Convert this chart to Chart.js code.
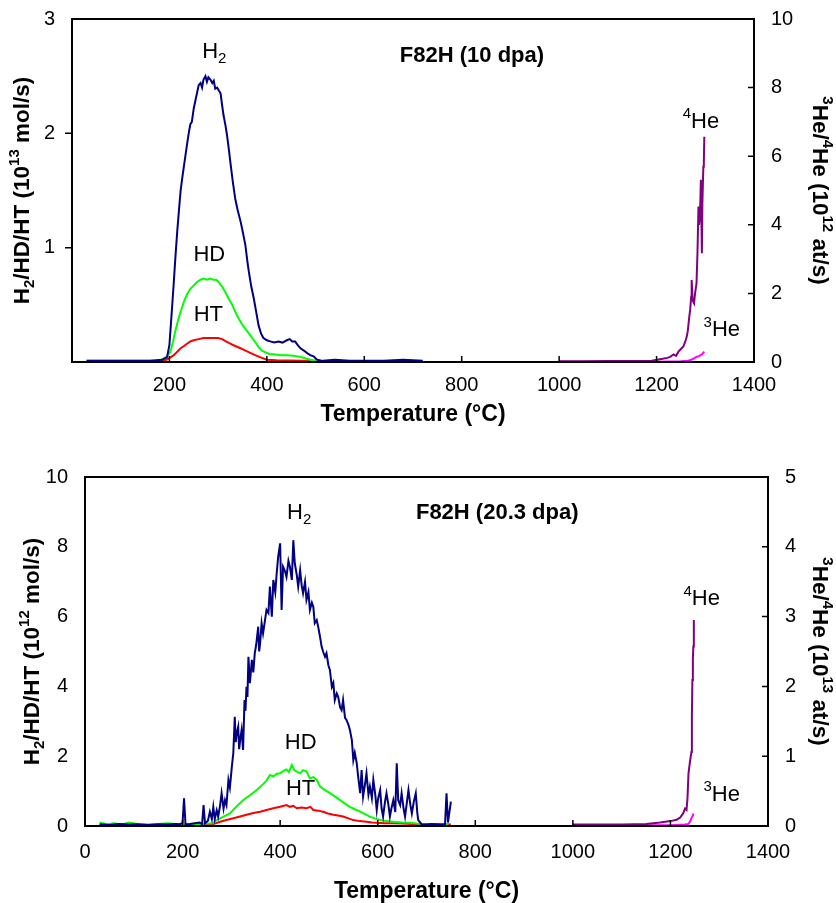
<!DOCTYPE html>
<html>
<head>
<meta charset="utf-8">
<script src="https://cdn.jsdelivr.net/npm/chart.js@4"></script>
<style>
body { margin: 0; background: #fff; overflow: hidden; }
#wrap { position: relative; width: 836px; height: 903px; overflow: hidden; }
canvas { position: absolute; left: 0; }
</style>
</head>
<body>
<div id="wrap">
<canvas id="topChart" width="836" height="460" style="top:-10px"></canvas>
<canvas id="bottomChart" width="836" height="455" style="top:448px"></canvas>
</div>
<script>
// ---- F82H (10 dpa): temperature (°C), rate ----
const h2Top = [[30,0.01],[80,0.01],[120,0.01],[160,0.01],[185,0.02],[195,0.04],[200,0.15],[202,0.27],[205,0.45],[209,0.70],[212,0.90],[216,1.14],[220,1.35],[223,1.50],[226,1.60],[230,1.72],[233,1.81],[236,1.90],[240,2.01],[243,2.08],[246,2.10],[250,2.22],[254,2.30],[257,2.36],[260,2.42],[264,2.44],[267,2.40],[270,2.47],[274,2.50],[277,2.45],[280,2.49],[284,2.47],[288,2.44],[291,2.46],[294,2.39],[298,2.40],[302,2.37],[305,2.35],[308,2.25],[311,2.16],[315,2.07],[318,1.99],[322,1.86],[325,1.75],[330,1.58],[335,1.43],[340,1.33],[346,1.23],[350,1.15],[356,1.02],[360,0.88],[363,0.79],[368,0.66],[373,0.56],[378,0.44],[383,0.32],[388,0.25],[393,0.21],[400,0.19],[407,0.18],[415,0.17],[424,0.18],[432,0.17],[441,0.19],[447,0.20],[452,0.18],[458,0.18],[463,0.15],[469,0.12],[476,0.10],[482,0.08],[489,0.06],[496,0.05],[503,0.02],[515,0.01],[540,0.02],[570,0.01],[600,0.01],[640,0.01],[680,0.02],[720,0.01]];
const hdTop = [[30,0.01],[120,0.01],[175,0.01],[188,0.03],[195,0.05],[202,0.09],[207,0.17],[212,0.27],[218,0.37],[223,0.44],[230,0.53],[236,0.59],[243,0.64],[250,0.67],[257,0.70],[264,0.72],[270,0.73],[277,0.72],[284,0.73],[290,0.72],[296,0.72],[301,0.70],[308,0.66],[315,0.61],[322,0.55],[329,0.50],[335,0.44],[342,0.38],[349,0.33],[356,0.29],[363,0.25],[370,0.21],[377,0.17],[383,0.13],[390,0.10],[397,0.085],[405,0.07],[414,0.067],[430,0.06],[441,0.06],[455,0.055],[469,0.045],[480,0.03],[489,0.02],[500,0.01]];
const htTop = [[30,0.005],[150,0.005],[188,0.01],[195,0.02],[202,0.04],[209,0.06],[216,0.09],[223,0.12],[230,0.14],[236,0.16],[243,0.18],[250,0.19],[260,0.20],[270,0.21],[280,0.21],[291,0.21],[300,0.21],[308,0.20],[316,0.18],[325,0.16],[335,0.14],[346,0.12],[356,0.10],[366,0.08],[376,0.06],[387,0.04],[400,0.02],[420,0.015],[470,0.01],[500,0.01]];
const he4Top = [[1000,0.02],[1050,0.02],[1100,0.03],[1150,0.03],[1190,0.04],[1207,0.08],[1215,0.10],[1222,0.12],[1228,0.15],[1235,0.22],[1240,0.18],[1245,0.30],[1250,0.38],[1255,0.45],[1259,0.60],[1262,0.74],[1264,0.90],[1265,1.03],[1267,1.30],[1269,1.52],[1271,1.90],[1272,2.39],[1274,1.80],[1277,1.71],[1279,2.00],[1282,2.29],[1284,3.20],[1286,4.53],[1287,4.00],[1289,4.24],[1291,5.31],[1292,4.20],[1293,3.17],[1294,4.60],[1296,5.69],[1297,5.80],[1298,6.57]];
const he3Top = [[1000,0.01],[1100,0.01],[1200,0.01],[1250,0.02],[1265,0.04],[1270,0.06],[1276,0.10],[1282,0.15],[1288,0.18],[1293,0.22],[1298,0.30]];

// ---- F82H (20.3 dpa) ----
const h2Bottom = [[30,0.05],[50,0.03],[70,0.06],[90,0.04],[110,0.05],[130,0.03],[150,0.05],[170,0.04],[185,0.06],[195,0.05],[200,0.10],[203,0.79],[206,0.05],[215,0.06],[225,0.08],[235,0.10],[240,0.05],[243,0.60],[246,0.08],[252,0.15],[256,0.41],[260,0.20],[263,0.55],[266,0.20],[270,0.45],[273,0.27],[277,0.60],[280,0.94],[284,0.50],[287,0.74],[290,0.60],[294,1.32],[297,1.10],[301,1.70],[304,2.09],[307,3.13],[309,2.40],[311,2.65],[314,2.84],[316,2.20],[318,2.46],[321,2.75],[324,2.18],[327,3.61],[329,3.30],[331,3.99],[333,3.70],[335,4.85],[338,4.09],[342,4.76],[345,4.40],[348,4.95],[351,5.20],[355,5.71],[357,5.00],[359,5.24],[362,5.81],[365,5.52],[369,5.90],[372,6.19],[376,6.10],[379,6.86],[381,6.40],[383,6.00],[386,7.05],[390,6.70],[393,7.25],[396,7.72],[400,8.10],[403,6.19],[406,7.43],[410,7.30],[413,7.14],[417,7.60],[420,7.43],[424,7.05],[427,8.19],[430,7.53],[434,7.20],[437,6.86],[441,7.33],[444,6.90],[447,6.67],[451,7.00],[454,6.48],[458,6.70],[461,6.19],[465,6.40],[468,6.28],[471,5.81],[475,5.90],[478,5.71],[482,5.40],[485,5.14],[488,5.00],[492,4.85],[495,4.95],[499,4.60],[502,4.47],[506,3.99],[509,4.10],[512,3.61],[516,3.80],[519,3.70],[523,3.40],[526,3.32],[529,3.61],[533,3.10],[536,3.04],[540,2.90],[543,2.75],[547,2.46],[550,1.89],[553,2.10],[557,1.80],[560,1.41],[564,0.94],[567,1.60],[570,0.84],[574,1.20],[577,1.51],[581,0.90],[584,1.13],[588,0.80],[591,1.32],[595,0.90],[598,0.46],[601,0.80],[605,1.03],[608,0.50],[611,0.27],[615,0.70],[618,0.94],[622,0.60],[625,0.27],[628,0.50],[632,0.74],[636,0.40],[639,1.80],[642,0.74],[646,0.60],[649,0.94],[653,0.50],[656,0.27],[660,0.70],[663,1.03],[667,0.60],[670,0.36],[674,0.70],[678,0.94],[681,0.40],[683,0.17],[690,0.05],[700,0.04],[710,0.06],[720,0.05],[730,0.04],[738,0.05],[741,0.94],[744,0.10],[747,0.40],[750,0.70]];
const hdBottom = [[30,0.10],[45,0.05],[60,0.08],[75,0.04],[90,0.10],[110,0.05],[130,0.04],[150,0.06],[170,0.08],[190,0.05],[210,0.06],[230,0.05],[250,0.07],[262,0.08],[270,0.17],[283,0.26],[297,0.36],[310,0.55],[324,0.74],[338,0.88],[352,1.03],[365,1.20],[372,1.30],[379,1.46],[386,1.42],[393,1.50],[400,1.51],[407,1.58],[413,1.62],[418,1.55],[424,1.75],[429,1.60],[435,1.55],[441,1.51],[447,1.60],[454,1.56],[461,1.37],[468,1.40],[475,1.32],[482,1.13],[490,1.05],[502,0.94],[512,0.85],[523,0.74],[533,0.64],[543,0.55],[553,0.48],[564,0.41],[574,0.34],[584,0.27],[595,0.21],[605,0.17],[618,0.14],[632,0.12],[650,0.10],[666,0.09],[680,0.07],[700,0.05],[720,0.05],[745,0.04]];
const htBottom = [[30,0.03],[100,0.02],[200,0.03],[260,0.04],[277,0.12],[290,0.17],[304,0.22],[318,0.27],[331,0.32],[345,0.37],[359,0.41],[372,0.46],[386,0.51],[400,0.55],[413,0.60],[420,0.55],[427,0.58],[434,0.51],[444,0.53],[454,0.51],[462,0.55],[468,0.46],[478,0.44],[488,0.41],[498,0.36],[509,0.32],[519,0.30],[529,0.27],[540,0.22],[550,0.17],[563,0.14],[577,0.12],[588,0.10],[598,0.09],[615,0.08],[632,0.08],[650,0.07],[670,0.06],[700,0.05],[730,0.05],[750,0.04]];
const he4Bottom = [[1000,0.02],[1050,0.02],[1100,0.02],[1150,0.03],[1179,0.05],[1200,0.07],[1213,0.09],[1220,0.12],[1226,0.18],[1230,0.25],[1233,0.23],[1235,0.40],[1237,0.75],[1240,0.92],[1243,1.06],[1244,1.57],[1245,2.09],[1246,2.40],[1247,2.57],[1248,2.95]];
const he3Bottom = [[1000,0.01],[1100,0.01],[1200,0.01],[1230,0.02],[1237,0.03],[1240,0.06],[1243,0.11],[1246,0.15],[1247,0.18]];

const FONT = '"Liberation Sans", Arial, Helvetica, sans-serif';
Chart.defaults.font.family = FONT;
Chart.defaults.color = '#000';

function pts(arr) {
    return arr.map(p => ({ x: p[0], y: p[1] }));
}

function line(data, color, axis) {
    return {
        data: pts(data),
        borderColor: color,
        borderWidth: 2,
        pointRadius: 0,
        showLine: true,
        yAxisID: axis
    };
}

// parts: [text, shift] where shift -1 = subscript, 1 = superscript
function drawRich(ctx, parts, x, y, size, bold, angle) {
    const w = bold ? 'bold ' : '';
    const small = Math.round(size * 0.66);
    ctx.save();
    ctx.translate(x, y);
    ctx.rotate(angle || 0);
    ctx.textBaseline = 'middle';
    ctx.textAlign = 'left';
    ctx.fillStyle = '#000';
    let total = 0;
    parts.forEach(p => {
        ctx.font = w + (p[1] ? small : size) + 'px ' + FONT;
        total += ctx.measureText(p[0]).width;
    });
    let cx = -total / 2;
    parts.forEach(p => {
        ctx.font = w + (p[1] ? small : size) + 'px ' + FONT;
        let dy = 0;
        if (p[1] === -1) dy = size * 0.3;
        if (p[1] === 1) dy = -size * 0.35;
        ctx.fillText(p[0], cx, dy);
        cx += ctx.measureText(p[0]).width;
    });
    ctx.restore();
}

const framePlugin = {
    id: 'frame',
    afterDraw(chart, args, opts) {
        const { ctx, chartArea: a, scales } = chart;
        ctx.save();
        ctx.strokeStyle = '#000';
        ctx.lineWidth = 1.5;
        ctx.beginPath();
        scales.x.ticks.forEach(t => {
            const px = scales.x.getPixelForValue(t.value);
            if (px > a.left + 2 && px < a.right - 2) {
                ctx.moveTo(px, a.bottom);
                ctx.lineTo(px, a.bottom - 6);
            }
        });
        scales.y2.ticks.forEach(t => {
            const py = scales.y2.getPixelForValue(t.value);
            if (py > a.top + 2 && py < a.bottom - 2) {
                ctx.moveTo(a.right, py);
                ctx.lineTo(a.right - 6, py);
            }
        });
        if (opts.leftTicks) {
            scales.y.ticks.forEach(t => {
                const py = scales.y.getPixelForValue(t.value);
                if (py > a.top + 2 && py < a.bottom - 2) {
                    ctx.moveTo(a.left, py);
                    ctx.lineTo(a.left - 7, py);
                }
            });
        }
        ctx.stroke();
        ctx.lineWidth = 2;
        ctx.strokeRect(a.left, a.top, a.right - a.left, a.bottom - a.top);
        ctx.restore();

        const midY = (a.top + a.bottom) / 2;
        drawRich(ctx, opts.leftTitle, opts.leftTitleX, midY, 22.5, true, -Math.PI / 2);
        drawRich(ctx, opts.rightTitle, opts.rightTitleX, midY, 22.5, true, Math.PI / 2);
        drawRich(ctx, [['Temperature (°C)', 0]], (a.left + a.right) / 2, opts.xTitleY, 23, true, 0);

        opts.labels.forEach(l => {
            const px = scales.x.getPixelForValue(l.x);
            const py = scales[l.axis].getPixelForValue(l.y);
            drawRich(ctx, l.parts, px, py, l.size, l.bold, 0);
        });
    }
};

function makeChart(id, cfg) {
    const ctx = document.getElementById(id).getContext('2d');
    return new Chart(ctx, {
        type: 'scatter',
        data: {
            datasets: [
                line(cfg.h2, '#000080', 'y'),
                line(cfg.hd, '#00ff00', 'y'),
                line(cfg.ht, '#ff0000', 'y'),
                line(cfg.he4, '#800080', 'y2'),
                line(cfg.he3, '#ff00ff', 'y2')
            ]
        },
        options: {
            responsive: false,
            animation: false,
            layout: { padding: { top: cfg.padTop, left: 0, right: 0, bottom: 0 } },
            plugins: {
                legend: { display: false },
                tooltip: { enabled: false },
                frame: cfg.frame
            },
            scales: {
                x: {
                    type: 'linear',
                    min: 0,
                    max: 1400,
                    grid: { display: false, drawTicks: false },
                    border: { display: false },
                    ticks: {
                        stepSize: 200,
                        autoSkip: false,
                        maxRotation: 0,
                        padding: cfg.xPad,
                        font: { size: 20 },
                        callback: v => (v === 0 && cfg.hideZeroX) ? '' : v
                    },
                    afterFit: s => { s.height = cfg.xHeight; }
                },
                y: {
                    position: 'left',
                    min: 0,
                    max: cfg.yMax,
                    grid: { display: false, drawTicks: false },
                    border: { display: false },
                    ticks: {
                        stepSize: cfg.yStep,
                        padding: 17,
                        font: { size: 20 },
                        callback: v => (v === 0 && cfg.hideZeroY) ? '' : v
                    },
                    afterFit: s => { s.width = cfg.leftWidth; }
                },
                y2: {
                    position: 'right',
                    min: 0,
                    max: cfg.y2Max,
                    grid: { display: false, drawTicks: false },
                    border: { display: false },
                    ticks: {
                        stepSize: cfg.y2Step,
                        padding: 17,
                        font: { size: 20 }
                    },
                    afterFit: s => { s.width = cfg.rightWidth; }
                }
            }
        },
        plugins: [framePlugin]
    });
}

makeChart('topChart', {
    h2: h2Top, hd: hdTop, ht: htTop, he4: he4Top, he3: he3Top,
    padTop: 29, xHeight: 88, leftWidth: 72, rightWidth: 82, xPad: 11,
    yMax: 3, yStep: 1, y2Max: 10, y2Step: 2,
    hideZeroX: true, hideZeroY: true,
    frame: {
        leftTicks: true,
        leftTitleX: 23,
        rightTitleX: 819,
        xTitleY: 425,
        leftTitle: [['H', 0], ['2', -1], ['/HD/HT (10', 0], ['13', 1], [' mol/s)', 0]],
        rightTitle: [['3', 1], ['He/', 0], ['4', 1], ['He (10', 0], ['12', 1], [' at/s)', 0]],
        labels: [
            { parts: [['H', 0], ['2', -1]], x: 292, y: 2.71, axis: 'y', size: 22 },
            { parts: [['HD', 0]], x: 282, y: 0.94, axis: 'y', size: 22 },
            { parts: [['HT', 0]], x: 280, y: 0.41, axis: 'y', size: 22 },
            { parts: [['4', 1], ['He', 0]], x: 1291, y: 7.0, axis: 'y2', size: 22 },
            { parts: [['3', 1], ['He', 0]], x: 1334, y: 0.93, axis: 'y2', size: 22 },
            { parts: [['F82H (10 dpa)', 0]], x: 821, y: 2.68, axis: 'y', size: 22, bold: true }
        ]
    }
});

makeChart('bottomChart', {
    h2: h2Bottom, hd: hdBottom, ht: htBottom, he4: he4Bottom, he3: he3Bottom,
    padTop: 29, xHeight: 77, leftWidth: 85, rightWidth: 68, xPad: 14,
    yMax: 10, yStep: 2, y2Max: 5, y2Step: 1,
    hideZeroX: false, hideZeroY: false,
    frame: {
        leftTicks: false,
        leftTitleX: 33,
        rightTitleX: 819,
        xTitleY: 444,
        leftTitle: [['H', 0], ['2', -1], ['/HD/HT (10', 0], ['12', 1], [' mol/s)', 0]],
        rightTitle: [['3', 1], ['He/', 0], ['4', 1], ['He (10', 0], ['13', 1], [' at/s)', 0]],
        labels: [
            { parts: [['H', 0], ['2', -1]], x: 439, y: 8.97, axis: 'y', size: 22 },
            { parts: [['HD', 0]], x: 442, y: 2.38, axis: 'y', size: 22 },
            { parts: [['HT', 0]], x: 442, y: 1.06, axis: 'y', size: 22 },
            { parts: [['4', 1], ['He', 0]], x: 1264, y: 3.25, axis: 'y2', size: 22 },
            { parts: [['3', 1], ['He', 0]], x: 1305, y: 0.45, axis: 'y2', size: 22 },
            { parts: [['F82H (20.3 dpa)', 0]], x: 845, y: 8.97, axis: 'y', size: 22, bold: true }
        ]
    }
});
</script>
</body>
</html>
